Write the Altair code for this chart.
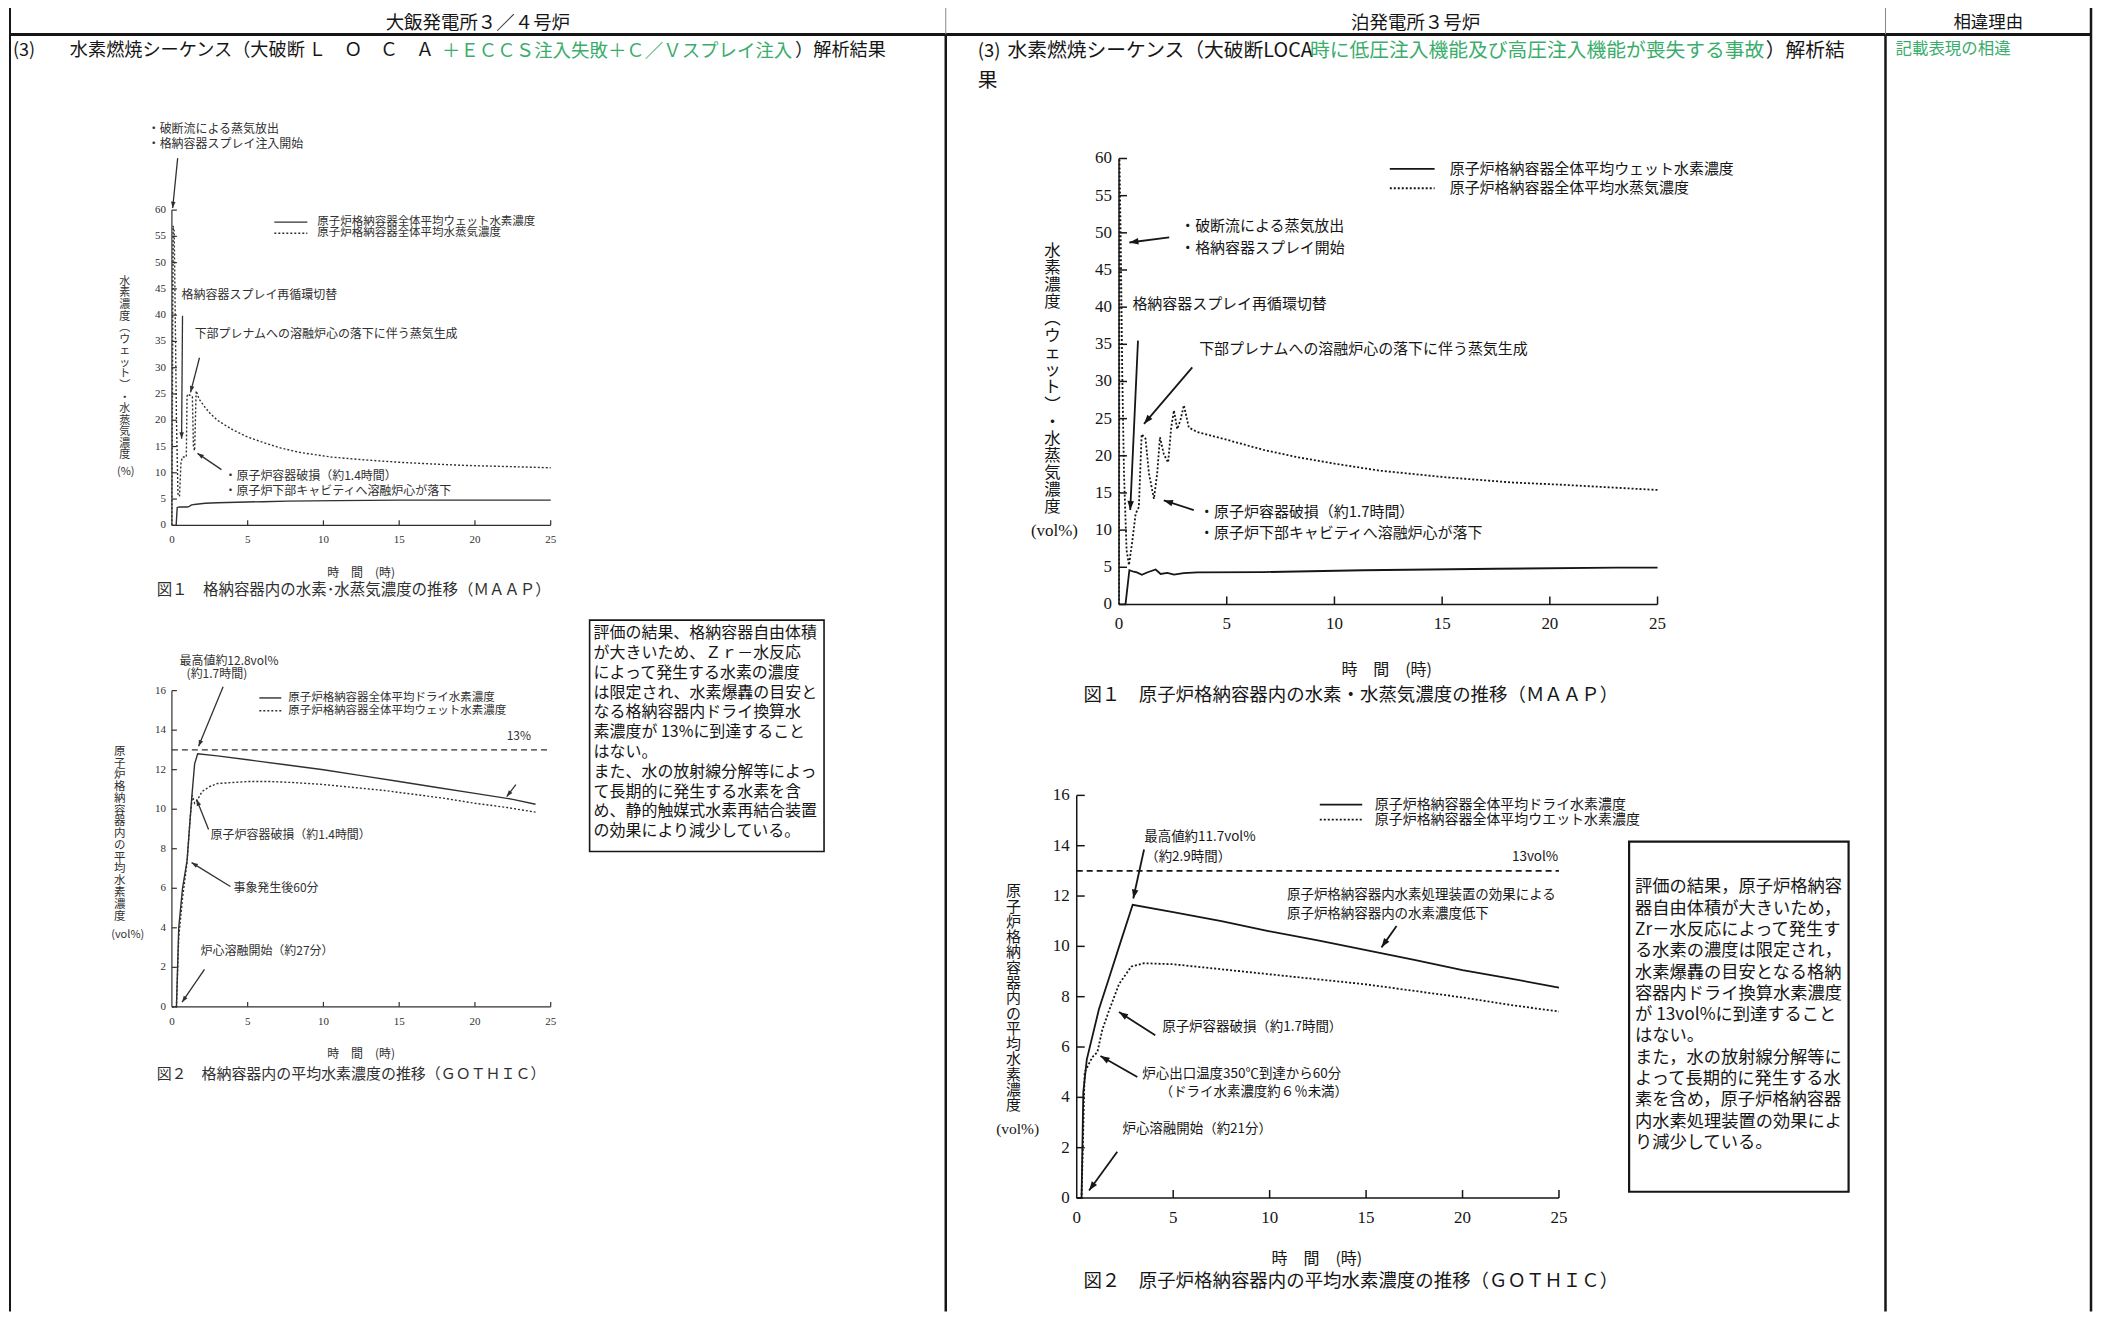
import math
import altair as alt
import pandas as pd

OFF = 8
W, H = 2092, 1305
JP = "Noto Sans CJK JP"
NUM = "Liberation Serif"
INK = "#161616"
GREY = "#303030"
GREEN = "#3aad6c"
ARROW = "M0,0L-0.36,1L0.36,1Z"

# ---------------- tick labels ----------------
HOURS_TICKS = [0, 5, 10, 15, 20, 25]
PCT60_TICKS = [0, 5, 10, 15, 20, 25, 30, 35, 40, 45, 50, 55, 60]
PCT16_TICKS = [0, 2, 4, 6, 8, 10, 12, 14, 16]

# ---------------- data: 大飯 図1 (MAAP) ----------------
ohi1_steam_hr = [0.0, 0.08, 0.15, 0.22, 0.3, 0.4, 0.5, 0.6, 0.7, 0.95, 1.0, 1.05, 1.35, 1.42, 1.5,
                 1.6, 1.8, 2.1, 2.45, 3.0, 4.0, 5.0, 6.2, 7.2, 8.4, 10.5, 12.5, 15.0, 17.0, 19.3, 22.0, 25.0]
ohi1_steam = [0, 57, 56, 40, 20, 6, 5.5, 12, 13, 13, 24.5, 25, 24.5, 15, 14.2,
              25.6, 24, 22.8, 21.5, 20, 18.2, 16.8, 15.6, 14.7, 13.9, 13.0, 12.5, 12.0, 11.7, 11.4, 11.2, 10.95]
ohi1_h2_hr = [0, 0.28, 0.35, 0.5, 1.0, 1.15, 1.3, 1.6, 2.2, 3.0, 4.3, 6.0, 7.6, 10.9, 15, 20, 25]
ohi1_h2 = [0, 0, 3.4, 3.5, 3.5, 3.6, 3.9, 4.0, 4.2, 4.3, 4.4, 4.5, 4.6, 4.7, 4.8, 4.8, 4.8]

# ---------------- data: 大飯 図2 (GOTHIC) ----------------
ohi2_dry_hr = [0, 0.3, 0.45, 0.7, 1.0, 1.3, 1.5, 1.7, 3.0, 5.0, 7.5, 10.0, 12.5, 15.0, 17.5, 20.0, 22.5, 24.0]
ohi2_dry = [0, 0, 4.0, 6.0, 7.4, 10.5, 12.3, 12.8, 12.7, 12.5, 12.25, 12.0, 11.7, 11.4, 11.1, 10.8, 10.5, 10.25]
ohi2_wet_hr = [0, 0.3, 0.45, 0.7, 1.0, 1.2, 1.35, 1.5, 1.7, 2.0, 2.5, 3.0, 4.0, 5.0, 6.5, 8.0, 10.0,
               12.0, 14.0, 16.0, 18.0, 20.0, 22.0, 24.0]
ohi2_wet = [0, 0, 3.5, 5.5, 7.3, 9.5, 10.7, 10.3, 10.5, 10.9, 11.15, 11.3, 11.35, 11.4, 11.4, 11.35, 11.25,
            11.1, 10.95, 10.75, 10.55, 10.3, 10.1, 9.85]

# ---------------- data: 泊 図1 (MAAP) ----------------
tom1_steam_hr = [0, 0.02, 0.08, 0.15, 0.23, 0.35, 0.46, 0.62, 0.77, 0.92, 1.05, 1.23, 1.39, 1.62, 1.77,
                 1.9, 2.08, 2.28, 2.42, 2.55, 2.7, 2.85, 3.01, 3.24, 3.63, 5.2, 6.7, 8.3, 10.1, 12.1,
                 15.2, 18.3, 20.6, 23.1, 25]
tom1_steam = [0, 60, 48.6, 30.9, 17.6, 7.3, 5.3, 8.6, 12.2, 13.1, 22.9, 22.3, 17.6, 14.2, 17.6,
              22.5, 20.2, 19.1, 23.8, 26.1, 23.6, 24.8, 26.8, 23.8, 23.2, 22.0, 20.8, 19.8, 18.9, 18.0,
              17.1, 16.4, 16.1, 15.7, 15.4]
tom1_h2_hr = [0, 0.3, 0.48, 0.68, 0.83, 1.06, 1.3, 1.7, 1.93, 2.24, 2.55, 3.0, 3.63, 6.7, 11.35, 17.5, 23.1, 25]
tom1_h2 = [0, 0, 4.6, 4.4, 4.3, 4.0, 4.3, 4.7, 4.1, 4.25, 4.0, 4.2, 4.3, 4.35, 4.6, 4.8, 4.95, 4.95]

# ---------------- data: 泊 図2 (GOTHIC) ----------------
tom2_dry_hr = [0, 0.25, 0.34, 0.52, 1.15, 1.7, 2.2, 2.9, 5, 7.5, 10, 12.5, 15, 17.5, 20, 22.5, 25]
tom2_dry = [0, 0, 4.2, 5.5, 7.5, 8.8, 10.0, 11.65, 11.36, 11.0, 10.6, 10.24, 9.85, 9.46, 9.06, 8.72, 8.36]
tom2_wet_hr = [0, 0.25, 0.41, 0.81, 1.07, 1.33, 1.67, 2.19, 2.83, 3.48, 5, 7.5, 10, 12.5, 15, 17.5, 20, 22.5, 25]
tom2_wet = [0, 0, 5.0, 5.6, 5.8, 6.7, 7.44, 8.5, 9.2, 9.33, 9.29, 9.09, 8.89, 8.69, 8.49, 8.23, 7.97, 7.67, 7.41]

LIMIT = 13

# ---------------- texts ----------------
LEG_WET = "原子炉格納容器全体平均ウェット水素濃度"
LEG_STEAM = "原子炉格納容器全体平均水蒸気濃度"
LEG_DRY = "原子炉格納容器全体平均ドライ水素濃度"

OHI_BOX = ["評価の結果、格納容器自由体積", "が大きいため、Ｚｒ－水反応", "によって発生する水素の濃度",
           "は限定され、水素爆轟の目安と", "なる格納容器内ドライ換算水", "素濃度が 13%に到達すること",
           "はない。", "また、水の放射線分解等によっ", "て長期的に発生する水素を含",
           "め、静的触媒式水素再結合装置", "の効果により減少している。"]
TOM_BOX = ["評価の結果，原子炉格納容", "器自由体積が大きいため，", "Zr－水反応によって発生す",
           "る水素の濃度は限定され，", "水素爆轟の目安となる格納", "容器内ドライ換算水素濃度",
           "が 13vol%に到達すること", "はない。", "また，水の放射線分解等に", "よって長期的に発生する水",
           "素を含め，原子炉格納容器", "内水素処理装置の効果によ", "り減少している。"]

# ---------------- layout (page pixels) ----------------
OHI1 = dict(x0=172.3, x1=552.0, y0=525.0, y1=209.0, ymax=60, yticks=PCT60_TICKS)
OHI2 = dict(x0=172.3, x1=552.0, y0=1007.7, y1=690.7, ymax=16, yticks=PCT16_TICKS)
TOM1 = dict(x0=1121.7, x1=1661.5, y0=604.3, y1=157.3, ymax=60, yticks=PCT60_TICKS)
TOM2 = dict(x0=1079.3, x1=1562.7, y0=1199.3, y1=795.7, ymax=16, yticks=PCT16_TICKS)

LSTYLE = dict(ink=GREY, tick=11, xpad=9, ypad=6, axw=1.2, ann=12, leg=11.5, lw=1.4, aw=1.3, head=160, tl=5)
RSTYLE = dict(ink=INK, tick=17, xpad=12, ypad=7, axw=1.5, ann=15, leg=15, lw=1.8, aw=1.8, head=330, tl=8)

ONE = pd.DataFrame({"k": [0]})


def ptext(x, y, s, size, color=INK, align="left", baseline="middle", font=JP, lh=None):
    kw = dict(text=s, align=align, baseline=baseline, font=font, fontSize=size, color=color)
    if lh is not None:
        kw["lineHeight"] = lh
    return alt.Chart(ONE).mark_text(**kw).encode(x=alt.value(x - OFF), y=alt.value(y - OFF))


def hline(x1, x2, y, w, color=INK):
    return alt.Chart(ONE).mark_rule(strokeWidth=w, color=color).encode(
        x=alt.value(x1 - OFF), x2=alt.value(x2 - OFF), y=alt.value(y - OFF))


def vline(x, y1, y2, w, color=INK):
    return alt.Chart(ONE).mark_rule(strokeWidth=w, color=color).encode(
        x=alt.value(x - OFF), y=alt.value(y1 - OFF), y2=alt.value(y2 - OFF))


def box(x1, y1, x2, y2, w):
    return alt.Chart(ONE).mark_rect(fill="white", fillOpacity=0, stroke=INK, strokeWidth=w).encode(
        x=alt.value(x1 - OFF), x2=alt.value(x2 - OFF), y=alt.value(y1 - OFF), y2=alt.value(y2 - OFF))


def panel(p, st, series, notes, arrows, legend, limit=None, ann_size=None, leg_size=None):
    ann_size = ann_size or st["ann"]
    leg_size = leg_size or st["leg"]
    xs = alt.Scale(domain=[0, 25], range=[p["x0"] - OFF, p["x1"] - OFF], nice=False, zero=False)
    ys = alt.Scale(domain=[0, p["ymax"]], range=[p["y0"] - OFF, p["y1"] - OFF], nice=False, zero=False)
    ppx = (p["x1"] - p["x0"]) / 25.0
    ppy = (p["y0"] - p["y1"]) / p["ymax"]

    def X(f):
        return alt.X(f, scale=xs, axis=None)

    def Y(f):
        return alt.Y(f, scale=ys, axis=None)

    layers = []
    # axis domain lines
    dx_df = pd.DataFrame({"a": [0], "b": [25], "v": [0]})
    layers.append(alt.Chart(dx_df).mark_rule(color=st["ink"], strokeWidth=st["axw"]).encode(
        x=X("a:Q"), x2="b:Q", y=Y("v:Q")))
    dy_df = pd.DataFrame({"t": [0], "a": [0], "b": [p["ymax"]]})
    layers.append(alt.Chart(dy_df).mark_rule(color=st["ink"], strokeWidth=st["axw"]).encode(
        x=X("t:Q"), y=Y("a:Q"), y2="b:Q"))
    # inward ticks
    tx = pd.DataFrame({"t": HOURS_TICKS[1:], "a": 0.0, "b": st["tl"] / ppy})
    layers.append(alt.Chart(tx).mark_rule(color=st["ink"], strokeWidth=st["axw"]).encode(
        x=X("t:Q"), y=Y("a:Q"), y2="b:Q"))
    ty = pd.DataFrame({"v": p["yticks"][1:], "a": 0.0, "b": st["tl"] / ppx})
    layers.append(alt.Chart(ty).mark_rule(color=st["ink"], strokeWidth=st["axw"]).encode(
        y=Y("v:Q"), x=X("a:Q"), x2="b:Q"))
    # tick labels
    xl = pd.DataFrame({"t": HOURS_TICKS, "v": 0.0, "lab": [str(t) for t in HOURS_TICKS]})
    layers.append(alt.Chart(xl).mark_text(align="center", baseline="top", dy=st["xpad"], font=NUM,
                                          fontSize=st["tick"], color=st["ink"]).encode(
        x=X("t:Q"), y=Y("v:Q"), text="lab:N"))
    yl = pd.DataFrame({"v": p["yticks"], "t": 0.0, "lab": [str(v) for v in p["yticks"]]})
    layers.append(alt.Chart(yl).mark_text(align="right", baseline="middle", dx=-st["ypad"], font=NUM,
                                          fontSize=st["tick"], color=st["ink"]).encode(
        x=X("t:Q"), y=Y("v:Q"), text="lab:N"))
    # series
    for (hrs, vals, kind) in series:
        df = pd.DataFrame({"t": hrs, "v": vals, "i": list(range(len(hrs)))})
        mk = dict(color=st["ink"], strokeWidth=st["lw"])
        if kind == "dot":
            mk["strokeDash"] = [2, 2]
        layers.append(alt.Chart(df).mark_line(**mk).encode(
            x=X("t:Q"), y=Y("v:Q"), order=alt.Order("i:Q")))
    if limit is not None:
        lim = pd.DataFrame({"a": [0], "b": [25], "v": [limit]})
        layers.append(alt.Chart(lim).mark_rule(color=st["ink"], strokeWidth=st["lw"], strokeDash=[6, 4]).encode(
            x=X("a:Q"), x2="b:Q", y=Y("v:Q")))
    # notes
    for al in ("left", "center", "right"):
        rows = [n for n in notes if n[3] == al]
        if not rows:
            continue
        df = pd.DataFrame(rows, columns=["label", "t", "v", "al"])
        layers.append(alt.Chart(df).mark_text(align=al, baseline="middle", font=JP, fontSize=ann_size,
                                              color=st["ink"]).encode(
            x=X("t:Q"), y=Y("v:Q"), text="label:N"))
    # arrows
    rows = []
    for (ta, va, tb, vb) in arrows:
        ddx = (tb - ta) * ppx
        ddy = -(vb - va) * ppy
        rows.append(dict(ta=ta, va=va, tb=tb, vb=vb, ang=math.degrees(math.atan2(ddx, -ddy)) % 360))
    adf = pd.DataFrame(rows)
    layers.append(alt.Chart(adf).mark_rule(color=st["ink"], strokeWidth=st["aw"]).encode(
        x=X("ta:Q"), y=Y("va:Q"), x2="tb:Q", y2="vb:Q"))
    layers.append(alt.Chart(adf).mark_point(shape=ARROW, filled=True, size=st["head"], color=st["ink"],
                                            opacity=1, strokeWidth=0).encode(
        x=X("tb:Q"), y=Y("vb:Q"), angle=alt.Angle("ang:Q", scale=None)))
    # legend
    for (ta, tb, v, kind, tt, label) in legend:
        ldf = pd.DataFrame({"a": [ta], "b": [tb], "v": [v], "tt": [tt], "label": [label]})
        mk = dict(color=st["ink"], strokeWidth=st["lw"])
        if kind == "dot":
            mk["strokeDash"] = [2, 2]
        layers.append(alt.Chart(ldf).mark_rule(**mk).encode(x=X("a:Q"), x2="b:Q", y=Y("v:Q")))
        layers.append(alt.Chart(ldf).mark_text(align="left", baseline="middle", font=JP, fontSize=leg_size,
                                               color=st["ink"]).encode(
            x=X("tt:Q"), y=Y("v:Q"), text="label:N"))
    return alt.layer(*layers)


# ---------------- panels ----------------
ohi1 = panel(
    OHI1, LSTYLE,
    [(ohi1_h2_hr, ohi1_h2, "solid"), (ohi1_steam_hr, ohi1_steam, "dot")],
    [("・破断流による蒸気放出", -1.6, 75.4, "left"), ("・格納容器スプレイ注入開始", -1.6, 72.5, "left"),
     ("格納容器スプレイ再循環切替", 0.64, 43.9, "left"),
     ("下部プレナムへの溶融炉心の落下に伴う蒸気生成", 1.5, 36.5, "left"),
     ("・原子炉容器破損（約1.4時間）", 3.47, 9.3, "left"),
     ("・原子炉下部キャビティへ溶融炉心が落下", 3.47, 6.5, "left")],
    [(0.38, 69.9, 0.05, 60.4), (0.7, 39.9, 0.64, 16.5), (1.82, 31.9, 1.23, 25.3), (3.27, 10.6, 1.69, 13.7)],
    [(6.76, 8.94, 57.7, "solid", 9.6, LEG_WET), (6.76, 8.94, 55.6, "dot", 9.6, LEG_STEAM)],
)

ohi2 = panel(
    OHI2, LSTYLE,
    [(ohi2_dry_hr, ohi2_dry, "solid"), (ohi2_wet_hr, ohi2_wet, "dot")],
    [("最高値約12.8vol%", 0.5, 17.5, "left"), ("(約1.7時間)", 0.97, 16.85, "left"),
     ("13%", 22.9, 13.7, "center"), ("原子炉容器破損（約1.4時間）", 2.55, 8.67, "left"),
     ("事象発生後60分", 4.06, 6.0, "left"), ("炉心溶融開始（約27分）", 1.89, 2.81, "left")],
    [(3.38, 16.2, 1.76, 13.18), (22.7, 11.24, 22.1, 10.64), (2.42, 8.97, 1.63, 10.49),
     (3.86, 6.09, 1.3, 7.3), (2.15, 1.9, 0.67, 0.24)],
    [(5.77, 7.22, 15.63, "solid", 7.68, LEG_DRY), (5.77, 7.22, 14.98, "dot", 7.68, LEG_WET)],
    limit=LIMIT,
)

tom1 = panel(
    TOM1, RSTYLE,
    [(tom1_h2_hr, tom1_h2, "solid"), (tom1_steam_hr, tom1_steam, "dot")],
    [("・破断流による蒸気放出", 2.84, 50.9, "left"), ("・格納容器スプレイ開始", 2.84, 47.9, "left"),
     ("格納容器スプレイ再循環切替", 0.62, 40.4, "left"),
     ("下部プレナムへの溶融炉心の落下に伴う蒸気生成", 3.72, 34.4, "left"),
     ("・原子炉容器破損（約1.7時間）", 3.72, 12.4, "left"),
     ("・原子炉下部キャビティへ溶融炉心が落下", 3.72, 9.6, "left")],
    [(2.33, 49.4, 0.48, 48.7), (0.88, 35.5, 0.52, 12.7), (3.4, 31.9, 1.16, 24.3), (3.47, 12.7, 2.08, 14.0)],
    [(12.57, 14.65, 58.6, "solid", 15.35, LEG_WET), (12.57, 14.65, 56.0, "dot", 15.35, LEG_STEAM)],
)

tom2 = panel(
    TOM2, RSTYLE,
    [(tom2_dry_hr, tom2_dry, "solid"), (tom2_wet_hr, tom2_wet, "dot")],
    [("最高値約11.7vol%", 3.5, 14.36, "left"), ("（約2.9時間）", 3.55, 13.57, "left"),
     ("13vol%", 24.96, 13.57, "right"),
     ("原子炉格納容器内水素処理装置の効果による", 10.9, 12.06, "left"),
     ("原子炉格納容器内の水素濃度低下", 10.9, 11.27, "left"),
     ("原子炉容器破損（約1.7時間）", 4.43, 6.79, "left"),
     ("炉心出口温度350℃到達から60分", 3.4, 4.93, "left"),
     ("（ドライ水素濃度約６％未満）", 4.3, 4.22, "left"),
     ("炉心溶融開始（約21分）", 2.37, 2.75, "left")],
    [(3.49, 13.85, 2.93, 11.9), (16.58, 10.81, 15.8, 9.96), (4.07, 6.47, 2.19, 7.39),
     (3.14, 4.81, 1.23, 5.64), (2.1, 1.84, 0.64, 0.3)],
    [(12.6, 14.8, 15.63, "solid", 15.45, LEG_DRY),
     (12.6, 14.8, 15.04, "dot", 15.45, "原子炉格納容器全体平均ウエット水素濃度")],
    limit=LIMIT, ann_size=13.5, leg_size=14,
)

# ---------------- page frame ----------------
BOT = H + OFF
frame = [
    hline(10, 2096, 3.5, 2.5), hline(10, 2096, 33, 3),
    vline(10, 3, BOT, 2), vline(948, 3, 33, 1, "#888888"), vline(948, 33, BOT, 2.5),
    vline(1890, 3, 33, 1, "#888888"), vline(1890, 33, BOT, 2.5), vline(2096, 3, BOT, 2.5),
]

heads = [
    ptext(479, 21, "大飯発電所３／４号炉", 18.5, align="center"),
    ptext(1419, 21, "泊発電所３号炉", 18.5, align="center"),
    ptext(1993, 21, "相違理由", 17.5, align="center"),
    # left row title
    ptext(13, 50, "(3)", 18),
    ptext(70, 50, "水素燃焼シーケンス（大破断", 18.2),
    ptext(309, 50, "Ｌ\u2003Ｏ\u2003Ｃ\u2003Ａ", 18),
    ptext(443, 50, "＋ＥＣＣＳ注入失敗＋Ｃ／Ｖスプレイ注入", 18.5, color=GREEN),
    ptext(797, 50, "）解析結果", 18.2),
    # right row title
    ptext(980, 50, "(3)", 18.5),
    ptext(1010, 50, "水素燃焼シーケンス（大破断LOCA", 19.8),
    ptext(1313, 50, "時に低圧注入機能及び高圧注入機能が喪失する事故", 19.8, color=GREEN),
    ptext(1770, 50, "）解析結", 19.8),
    ptext(980, 80, "果", 19.8),
    ptext(1900, 48, "記載表現の相違", 16.5, color=GREEN),
]

titles = [
    # 大飯 図1
    ptext(125, 275, list("水素濃度︵ウェット︶・水蒸気濃度"), 11, color=GREY, align="center", baseline="top", lh=11.6),
    ptext(126, 472, "(%)", 11, color=GREY, align="center"),
    ptext(362, 573, "時　間　(時)", 12, color=GREY, align="center"),
    ptext(157, 590, "図１　格納容器内の水素･水蒸気濃度の推移（ＭＡＡＰ）", 15.5, color=GREY),
    # 大飯 図2
    ptext(120, 746, list("原子炉格納容器内の平均水素濃度"), 11.5, color=GREY, align="center", baseline="top", lh=11.8),
    ptext(128, 936, "(vol%)", 11, color=GREY, align="center"),
    ptext(362, 1055, "時　間　(時)", 12, color=GREY, align="center"),
    ptext(157, 1075, "図２　格納容器内の平均水素濃度の推移（ＧＯＴＨＩＣ）", 15, color=GREY),
    # 泊 図1
    ptext(1055, 242, list("水素濃度︵ウェット︶・水蒸気濃度"), 16.5, align="center", baseline="top", lh=17.1),
    ptext(1057, 531, "(vol%)", 17, align="center", font=NUM),
    ptext(1390, 670, "時　間　(時)", 16, align="center"),
    ptext(1086, 695, "図１　原子炉格納容器内の水素・水蒸気濃度の推移（ＭＡＡＰ）", 18.5),
    # 泊 図2
    ptext(1016, 885, list("原子炉格納容器内の平均水素濃度"), 15, align="center", baseline="top", lh=15.3),
    ptext(1020, 1130, "(vol%)", 15.5, align="center", font=NUM),
    ptext(1320, 1260, "時　間　(時)", 16, align="center"),
    ptext(1086, 1283, "図２　原子炉格納容器内の平均水素濃度の推移（ＧＯＴＨＩＣ）", 18.5),
]

boxes = [
    box(591, 620, 826, 852, 1.6),
    ptext(595, 625, OHI_BOX, 16, baseline="top", lh=19.87),
    box(1633, 842, 1853, 1193, 2.2),
    ptext(1639, 879, TOM_BOX, 17.3, baseline="top", lh=21.33),
]

chart = alt.layer(*(frame + heads + [ohi1, ohi2, tom1, tom2] + titles + boxes)).resolve_scale(
    x="independent", y="independent"
).properties(
    width=W, height=H, padding=0, background="white",
    autosize=alt.AutoSizeParams(type="none"),
).configure_view(strokeWidth=0)

chart.save("out.html", embed_options={"renderer": "svg", "actions": False})
